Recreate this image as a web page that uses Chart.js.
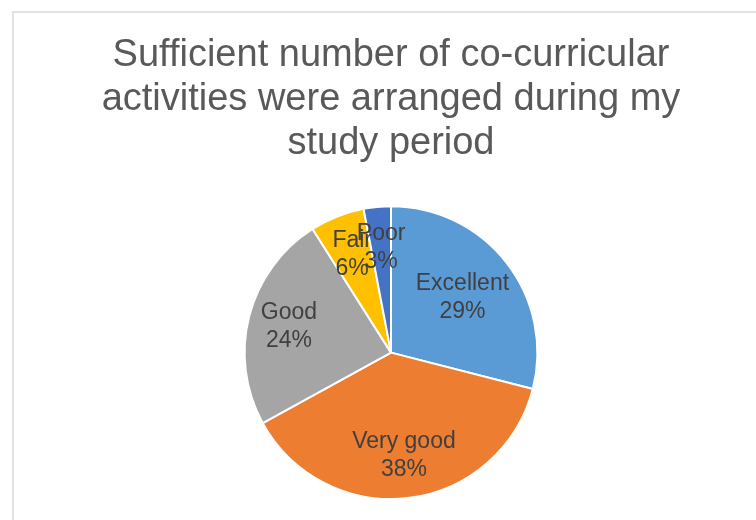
<!DOCTYPE html>
<html>
<head>
<meta charset="utf-8">
<script src="https://cdn.jsdelivr.net/npm/chart.js@4.4.0/dist/chart.umd.min.js"></script>
<style>
  html, body { margin: 0; padding: 0; background: #ffffff; }
  #wrap { width: 756px; height: 520px; position: relative; }
</style>
</head>
<body>
<div id="wrap"><canvas id="c" width="756" height="520"></canvas></div>
<script>
// ---- data ----
const titleLines = ["Sufficient number of co-curricular", "activities were arranged during my", "study period"];
const categories = ["Excellent", "Very good", "Good", "Fair", "Poor"];
const percentValues = [29, 38, 24, 6, 3];
const sliceColors = ["#5B9BD5", "#ED7D31", "#A5A5A5", "#FFC000", "#4472C4"];

const FONT = "'Liberation Sans', Arial, Helvetica, sans-serif";

const framePlugin = {
  id: 'frame',
  beforeDraw(chart) {
    const ctx = chart.ctx;
    ctx.save();
    ctx.fillStyle = '#ffffff';
    ctx.fillRect(0, 0, chart.width, chart.height);
    ctx.strokeStyle = '#d9d9d9';
    ctx.lineWidth = 1.5;
    ctx.beginPath();
    ctx.moveTo(13, chart.height);
    ctx.lineTo(13, 12);
    ctx.lineTo(chart.width, 12);
    ctx.stroke();
    ctx.restore();
  }
};

const labelPlugin = {
  id: 'sliceLabels',
  afterDatasetsDraw(chart) {
    const ctx = chart.ctx;
    const meta = chart.getDatasetMeta(0);
    const fontSize = 23;
    const lh = 28;
    ctx.save();
    ctx.font = fontSize + 'px ' + FONT;
    ctx.fillStyle = '#404040';
    ctx.textAlign = 'center';
    ctx.textBaseline = 'middle';
    meta.data.forEach((arc, i) => {
      const p = arc.getProps(['x', 'y', 'startAngle', 'endAngle', 'outerRadius'], true);
      const mid = (p.startAngle + p.endAngle) / 2;
      const l1 = categories[i];
      const l2 = percentValues[i] + '%';
      const hw = Math.max(ctx.measureText(l1).width, ctx.measureText(l2).width) / 2;
      const hh = 24;
      const limit = p.outerRadius - 4;
      let d = p.outerRadius * 0.72;
      const ca = Math.cos(mid), sa = Math.sin(mid);
      while (d > 0) {
        const cx = ca * d, cy = sa * d;
        const ok = [[-hw, -hh], [hw, -hh], [-hw, hh], [hw, hh]].every(([ox, oy]) => Math.hypot(cx + ox, cy + oy) <= limit);
        if (ok) break;
        d -= 1;
      }
      const x = p.x + ca * d, y = p.y + sa * d;
      ctx.fillText(l1, x, y - lh / 2);
      ctx.fillText(l2, x, y + lh / 2);
    });
    ctx.restore();
  }
};

new Chart(document.getElementById('c'), {
  type: 'pie',
  data: {
    labels: categories,
    datasets: [{
      data: percentValues,
      backgroundColor: sliceColors,
      borderColor: '#ffffff',
      borderWidth: 2
    }]
  },
  options: {
    responsive: false,
    animation: false,
    layout: { padding: { top: 0, left: 26, right: 0, bottom: 20 } },
    plugins: {
      legend: { display: false },
      tooltip: { enabled: false },
      title: {
        display: true,
        text: titleLines,
        color: '#595959',
        font: { family: FONT, size: 38, weight: 'normal', lineHeight: 1.16 },
        padding: { top: 33, bottom: 40 }
      }
    }
  },
  plugins: [framePlugin, labelPlugin]
});
</script>
</body>
</html>
